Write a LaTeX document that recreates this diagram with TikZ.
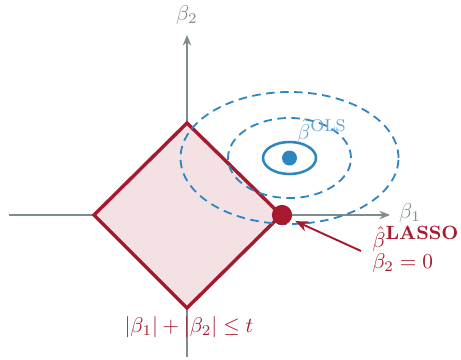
\documentclass[tikz,border=0pt]{standalone}
\usepackage{amsmath}
\usepackage{xcolor}
\usetikzlibrary{arrows.meta, positioning, calc}

\definecolor{lassored}{HTML}{A6192E}
\definecolor{lassofill}{HTML}{F4E1E4}
\definecolor{olsblue}{HTML}{2E86C1}
\definecolor{axisgray}{HTML}{7F8C8D}

\begin{document}
\begin{tikzpicture}[x=0.47pt, y=0.47pt,
    axis/.style={draw=axisgray, line width=0.5pt, -{Stealth[length=5pt, width=4pt]}},
    contour/.style={draw=olsblue, line width=0.85pt, dash pattern=on 4pt off 2.6pt},
    lbl/.style={inner sep=0pt, font=\normalsize}]
    \useasboundingbox (-187,-144) rectangle (274,215);
    % axes
    \coordinate (xl) at (-178,0);
    \coordinate (xr) at (203,0);
    \coordinate (yb) at (0,-142);
    \coordinate (yt) at (0,180);
    \draw[axis] (xl) -- (xr);
    \draw[axis] (yb) -- (yt);
    \node[lbl, text=axisgray] (b1) at (223,2) {$\beta_1$};
    \node[lbl, text=axisgray] (b2) at (0,200) {$\beta_2$};
    % constraint region
    \draw[draw=lassored, fill=lassofill, line width=1.6pt, line join=miter]
        (0,92) -- (94,0) -- (0,-93) -- (-93,0) -- cycle;
    \node[lbl, text=lassored] (region) at (2,-112) {$|\beta_1| + |\beta_2| \le t$};
    % OLS contours
    \coordinate (ols) at (102.5,57);
    \draw[contour] (ols) ellipse [x radius=109, y radius=66];
    \draw[contour] (ols) ellipse [x radius=61.5, y radius=40];
    \draw[draw=olsblue, line width=1.2pt] (ols) ellipse [x radius=26.5, y radius=16];
    \fill[olsblue] (ols) circle [radius=7.5];
    \node[lbl, text=olsblue!75] (olslbl) at (135,84)
        {$\hat{\beta}^{\text{\fontsize{8}{8}\selectfont OLS}}$};
    % lasso solution
    \node[circle, fill=lassored, inner sep=0pt, minimum size=9.5pt] (lassodot) at (95,0) {};
    \node[lbl, text=lassored, anchor=west] (lasso) at (185,-24)
        {$\hat{\beta}^{\text{\fontsize{9}{9}\selectfont\bfseries LASSO}}$};
    \node[lbl, text=lassored, anchor=west] (zero) at (185,-48) {$\beta_2 = 0$};
    \coordinate (lassotail) at (174,-36);
    \draw[draw=lassored, line width=0.9pt, -{Stealth[length=6pt, width=5pt]}, shorten >=2pt]
        (lassotail) -- (lassodot);
\end{tikzpicture}
\end{document}
